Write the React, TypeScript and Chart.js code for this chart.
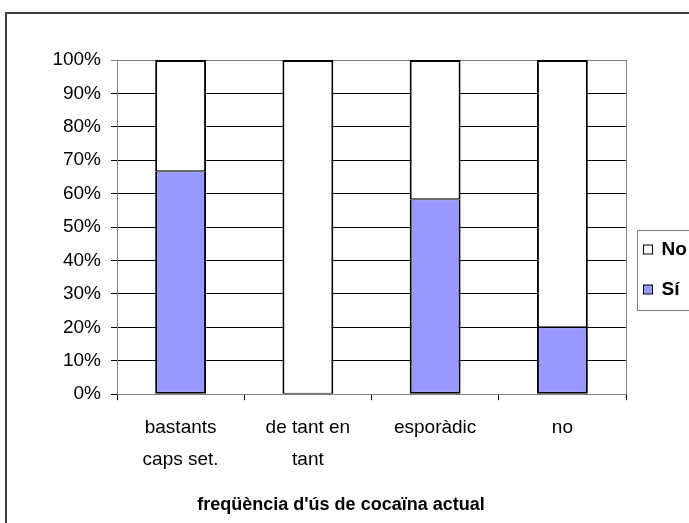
import React, { useEffect, useRef } from 'react';
import { Chart, registerables } from 'chart.js';

Chart.register(...registerables);

// ---- data ----
const categories: string[][] = [['bastants', 'caps set.'], ['de tant en', 'tant'], ['esporàdic'], ['no']];
const siValues: number[] = [66.7, 0, 58.3, 20];
const noValues: number[] = [33.3, 100, 41.7, 80];
const seriesNames: string[] = ['Sí', 'No'];
const seriesColors: string[] = ['#9999FF', '#FFFFFF'];
const xTitle = "freqüència d'ús de cocaïna actual";
const yMin = 0;
const yMax = 100;
const yStep = 10;

const FONT = "'Liberation Sans', Arial, sans-serif";

const framePlugin = {
  id: 'outerFrame',
  beforeDraw(chart: any) {
    const { ctx, width, height } = chart;
    ctx.save();
    ctx.fillStyle = '#ffffff';
    ctx.fillRect(0, 0, width, height);
    ctx.strokeStyle = '#404040';
    ctx.lineWidth = 2;
    ctx.beginPath();
    ctx.moveTo(6, height + 2);
    ctx.lineTo(6, 13);
    ctx.lineTo(width + 2, 13);
    ctx.stroke();
    ctx.restore();
  },
  beforeDatasetsDraw(chart: any) {
    const { ctx, chartArea } = chart;
    ctx.save();
    ctx.strokeStyle = '#808080';
    ctx.lineWidth = 1;
    ctx.beginPath();
    ctx.moveTo(Math.round(chartArea.right) + 0.5, chartArea.top);
    ctx.lineTo(Math.round(chartArea.right) + 0.5, chartArea.bottom);
    ctx.stroke();
    ctx.restore();
  },
};

const boxLegendPlugin = {
  id: 'boxLegend',
  afterDraw(chart: any) {
    const { ctx, chartArea } = chart;
    const items = chart.data.datasets.slice().reverse();
    const left = Math.round(chartArea.right) + 11.5;
    const top = 230.5;
    ctx.save();
    ctx.strokeStyle = '#808080';
    ctx.lineWidth = 1;
    ctx.strokeRect(left, top, 80, 80);
    items.forEach((d: any, i: number) => {
      const cy = top + 19.5 + i * 40;
      ctx.fillStyle = d.backgroundColor;
      ctx.fillRect(left + 6, cy - 5, 9, 9);
      ctx.strokeStyle = '#000';
      ctx.strokeRect(left + 6, cy - 5, 9, 9);
      ctx.fillStyle = '#000';
      ctx.font = `bold 19px ${FONT}`;
      ctx.textBaseline = 'middle';
      ctx.textAlign = 'left';
      ctx.fillText(d.label, left + 24, cy);
    });
    ctx.restore();
  },
};

export default function App() {
  const ref = useRef<HTMLCanvasElement | null>(null);

  useEffect(() => {
    if (!ref.current) return;
    Chart.defaults.font.family = FONT;
    Chart.defaults.color = '#000';
    const chart = new Chart(ref.current, {
      type: 'bar',
      data: {
        labels: categories,
        datasets: [
          {
            label: seriesNames[0],
            data: siValues,
            backgroundColor: seriesColors[0],
            borderColor: '#000',
            borderWidth: { top: 1, left: 2, right: 2, bottom: 2 },
            borderSkipped: false,
            barPercentage: 0.4,
            categoryPercentage: 1,
          },
          {
            label: seriesNames[1],
            data: noValues,
            backgroundColor: seriesColors[1],
            borderColor: '#000',
            borderWidth: { top: 2, left: 2, right: 2, bottom: 1 },
            borderSkipped: false,
            barPercentage: 0.4,
            categoryPercentage: 1,
          },
        ],
      },
      options: {
        responsive: false,
        animation: false,
        devicePixelRatio: 1,
        layout: { padding: { left: 0, right: 7, top: 60, bottom: 0 } },
        plugins: {
          legend: { display: false },
          tooltip: { enabled: false },
          title: {
            display: true,
            position: 'bottom',
            text: xTitle,
            color: '#000',
            font: { size: 18, weight: 'bold', family: FONT, lineHeight: 1.2 },
            padding: { top: 0, bottom: 7 },
          },
        },
        scales: {
          x: {
            stacked: true,
            afterFit: (s: any) => { s.height = 100.2; },
            grid: {
              display: true,
              drawOnChartArea: false,
              drawTicks: true,
              tickLength: 6,
              color: '#000',
              offset: true,
            },
            border: { display: true, color: '#808080', width: 1 },
            ticks: {
              color: '#000',
              padding: 12,
              maxRotation: 0,
              autoSkip: false,
              font: { size: 19, family: FONT, lineHeight: 1.68 },
            },
          },
          y: {
            stacked: true,
            min: yMin,
            max: yMax,
            afterFit: (s: any) => { s.width = 117; },
            grid: {
              color: (c: any) => (c.tick && c.tick.value === yMax ? '#808080' : '#000'),
              tickLength: 6,
              drawTicks: true,
            },
            border: { display: true, color: '#808080', width: 1 },
            ticks: {
              stepSize: yStep,
              padding: 10,
              color: '#000',
              font: { size: 19, family: FONT },
              callback: (v: any) => `${v}%`,
            },
          },
          yR: {
            position: 'right',
            display: true,
            afterFit: (s: any) => { s.width = 56; },
            grid: { display: false, drawTicks: false },
            border: { display: false },
            ticks: { display: false },
          },
        },
      },
      plugins: [framePlugin, boxLegendPlugin],
    } as any);
    return () => chart.destroy();
  }, []);

  return (
    <div style={{ position: 'absolute', left: 0, top: 0, width: 689, height: 523, overflow: 'hidden', background: '#fff' }}>
      <canvas ref={ref} width={689} height={523} style={{ display: 'block' }} />
    </div>
  );
}
